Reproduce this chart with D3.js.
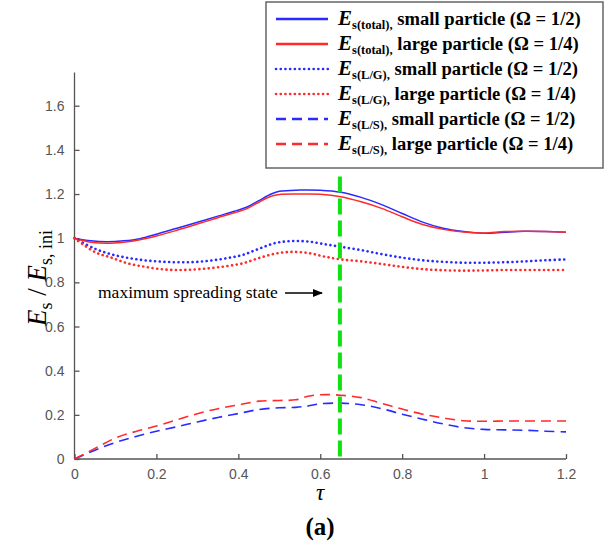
<!DOCTYPE html>
<html>
<head>
<meta charset="utf-8">
<script src="https://cdn.jsdelivr.net/npm/d3@7"></script>
<style>
  body { margin: 0; background: #fff; }
  .axis text { font-family: "Liberation Sans", Arial, sans-serif; font-size: 14px; fill: #555; }
  .axis path, .axis line { stroke: #555; stroke-width: 1.3; }
</style>
</head>
<body>
<script>
// --- data ---
var tauTotal = [0, 0.04, 0.08, 0.12, 0.16, 0.2, 0.25, 0.3, 0.35, 0.39, 0.42, 0.45, 0.48, 0.5, 0.55, 0.6, 0.65, 0.7, 0.75, 0.8, 0.85, 0.9, 0.95, 1.0, 1.05, 1.1, 1.15, 1.2];
var totalSmall = [1.0, 0.988, 0.984, 0.988, 0.998, 1.018, 1.045, 1.072, 1.1, 1.122, 1.14, 1.17, 1.2, 1.213, 1.218, 1.217, 1.208, 1.185, 1.152, 1.112, 1.073, 1.045, 1.03, 1.022, 1.027, 1.031, 1.03, 1.027];
var totalLarge = [1.0, 0.982, 0.977, 0.982, 0.993, 1.01, 1.036, 1.064, 1.093, 1.115, 1.133, 1.163, 1.19, 1.198, 1.2, 1.199, 1.188, 1.165, 1.135, 1.097, 1.062, 1.04, 1.028, 1.024, 1.03, 1.031, 1.03, 1.027];

var tauLG = [0, 0.05, 0.09, 0.13, 0.17, 0.21, 0.25, 0.29, 0.33, 0.37, 0.41, 0.45, 0.49, 0.53, 0.57, 0.61, 0.65, 0.7, 0.75, 0.8, 0.85, 0.9, 0.95, 1.0, 1.05, 1.1, 1.15, 1.2];
var lgSmall = [1.0, 0.952, 0.927, 0.911, 0.9, 0.894, 0.891, 0.892, 0.898, 0.909, 0.924, 0.952, 0.978, 0.987, 0.985, 0.973, 0.961, 0.946, 0.928, 0.912, 0.9, 0.893, 0.889, 0.889, 0.891, 0.895, 0.9, 0.904];
var lgLarge = [1.0, 0.937, 0.912, 0.886, 0.871, 0.86, 0.856, 0.858, 0.864, 0.873, 0.886, 0.91, 0.93, 0.938, 0.933, 0.917, 0.904, 0.895, 0.883, 0.87, 0.86, 0.855, 0.853, 0.854, 0.856, 0.856, 0.856, 0.856];

var tauLS = [0, 0.05, 0.1, 0.15, 0.2, 0.25, 0.3, 0.35, 0.4, 0.45, 0.5, 0.54, 0.57, 0.6, 0.65, 0.7, 0.75, 0.8, 0.85, 0.9, 0.95, 1.0, 1.05, 1.1, 1.15, 1.2];
var lsSmall = [0, 0.04, 0.075, 0.102, 0.126, 0.146, 0.168, 0.188, 0.206, 0.224, 0.232, 0.234, 0.24, 0.25, 0.253, 0.246, 0.228, 0.203, 0.18, 0.159, 0.142, 0.134, 0.132, 0.13, 0.126, 0.123];
var lsLarge = [0, 0.048, 0.095, 0.125, 0.149, 0.178, 0.205, 0.228, 0.245, 0.262, 0.265, 0.268, 0.284, 0.291, 0.289, 0.278, 0.252, 0.226, 0.203, 0.186, 0.173, 0.171, 0.172, 0.172, 0.172, 0.172];

var xTicks = [0, 0.2, 0.4, 0.6, 0.8, 1, 1.2];
var yTicks = [0, 0.2, 0.4, 0.6, 0.8, 1, 1.2, 1.4, 1.6];
var maxSpreadTau = 0.648;
var maxSpreadTop = 1.28;

var legendSub = ["s(total),", "s(total),", "s(L/G),", "s(L/G),", "s(L/S),", "s(L/S),"];
var legendText = [" small particle (\u03A9 = 1/2)", " large particle (\u03A9 = 1/4)",
                  " small particle (\u03A9 = 1/2)", " large particle (\u03A9 = 1/4)",
                  " small particle (\u03A9 = 1/2)", " large particle (\u03A9 = 1/4)"];

var blue = "#2a2aff", red = "#ff2a2a";
var serif = "'Liberation Serif', 'Times New Roman', serif";

var series = [
  {tau: tauTotal, v: totalSmall, color: blue, dash: null, w: 1.5},
  {tau: tauTotal, v: totalLarge, color: red, dash: null, w: 1.5},
  {tau: tauLG, v: lgSmall, color: blue, dash: "0.1,4.6", w: 2.6},
  {tau: tauLG, v: lgLarge, color: red, dash: "0.1,4.6", w: 2.6},
  {tau: tauLS, v: lsSmall, color: blue, dash: "10,6", w: 1.6},
  {tau: tauLS, v: lsLarge, color: red, dash: "10,6", w: 1.6}
];

var width = 604, height = 548;
var svg = d3.select("body").append("svg")
    .attr("width", width)
    .attr("height", height);

var x = d3.scaleLinear().domain([0, 1.2]).range([74.5, 566]);
var y = d3.scaleLinear().domain([0, 1.75]).range([459, 72.6]);

// axes (inward ticks, MATLAB style)
var xAxis = d3.axisBottom(x).tickValues(xTicks).tickSize(-5).tickPadding(10)
    .tickFormat(function(d) { return d3.format("~g")(d); });
var yAxis = d3.axisLeft(y).tickValues(yTicks).tickSize(-5).tickPadding(10)
    .tickFormat(function(d) { return d3.format("~g")(d); });

svg.append("g")
    .attr("class", "axis")
    .attr("transform", "translate(0," + y(0) + ")")
    .call(xAxis)
    .call(function(g) { g.select(".domain").attr("d", "M" + x(0) + ",0H" + x(1.2)); });

svg.append("g")
    .attr("class", "axis")
    .attr("transform", "translate(" + x(0) + ",0)")
    .call(yAxis)
    .call(function(g) { g.select(".domain").attr("d", "M0," + y(0) + "V" + y(1.75)); });

var line = d3.line()
    .x(function(d) { return x(d[0]); })
    .y(function(d) { return y(d[1]); })
    .curve(d3.curveCatmullRom);

series.forEach(function(s) {
  var pts = s.tau.map(function(t, i) { return [t, s.v[i]]; });
  svg.append("path")
      .datum(pts)
      .attr("d", line)
      .attr("fill", "none")
      .attr("stroke", s.color)
      .attr("stroke-width", s.w)
      .attr("stroke-linecap", s.dash && s.dash.indexOf("0.1") === 0 ? "round" : "butt")
      .attr("stroke-dasharray", s.dash);
});

// maximum spreading state marker
svg.append("line")
    .attr("x1", x(maxSpreadTau)).attr("x2", x(maxSpreadTau))
    .attr("y1", y(maxSpreadTop)).attr("y2", y(0.01))
    .attr("stroke", "#11e011")
    .attr("stroke-width", 4)
    .attr("stroke-dasharray", "16,6");

svg.append("text")
    .attr("x", 98).attr("y", 298)
    .attr("font-family", serif)
    .attr("font-size", 17.5)
    .text("maximum spreading state");

svg.append("defs").append("marker")
    .attr("id", "arrow")
    .attr("viewBox", "0 0 10 10")
    .attr("refX", 9).attr("refY", 5)
    .attr("markerWidth", 7).attr("markerHeight", 7)
    .attr("orient", "auto")
  .append("path")
    .attr("d", "M0,1L10,5L0,9z")
    .attr("fill", "#000");

svg.append("line")
    .attr("x1", 285).attr("x2", 322)
    .attr("y1", 293).attr("y2", 293)
    .attr("stroke", "#000")
    .attr("stroke-width", 1.5)
    .attr("marker-end", "url(#arrow)");

// axis labels
var yl = svg.append("text")
    .attr("transform", "translate(46,278) rotate(-90)")
    .attr("text-anchor", "middle")
    .attr("font-family", serif)
    .attr("font-size", 27);
yl.append("tspan").attr("font-style", "italic").text("E");
yl.append("tspan").attr("dy", 6).attr("font-size", 18).text("s");
yl.append("tspan").attr("dy", -6).text(" / ");
yl.append("tspan").attr("font-style", "italic").text("E");
yl.append("tspan").attr("dy", 6).attr("font-size", 18).text("s, ini");

svg.append("text")
    .attr("x", 320).attr("y", 500)
    .attr("text-anchor", "middle")
    .attr("font-family", serif)
    .attr("font-size", 23)
    .attr("font-style", "italic")
    .text("\u03C4");

svg.append("text")
    .attr("x", 320).attr("y", 535)
    .attr("text-anchor", "middle")
    .attr("font-family", serif)
    .attr("font-size", 25)
    .attr("font-weight", "bold")
    .text("(a)");

// legend
var lg = svg.append("g");
lg.append("rect")
    .attr("x", 266).attr("y", 2)
    .attr("width", 337).attr("height", 166)
    .attr("fill", "#fff")
    .attr("stroke", "#666")
    .attr("stroke-width", 1.5);

var rows = lg.selectAll(".legend")
    .data(series)
  .enter().append("g")
    .attr("class", "legend")
    .attr("transform", function(d, i) { return "translate(0," + (19 + i * 25) + ")"; });

rows.append("line")
    .attr("x1", 276).attr("x2", 328)
    .attr("stroke", function(d) { return d.color; })
    .attr("stroke-width", function(d) { return d.dash && d.dash.indexOf("0.1") === 0 ? 2.6 : 2.4; })
    .attr("stroke-linecap", function(d) { return d.dash && d.dash.indexOf("0.1") === 0 ? "round" : "butt"; })
    .attr("stroke-dasharray", function(d) { return d.dash; });

var lt = rows.append("text")
    .attr("x", 338).attr("y", 6)
    .attr("font-family", serif)
    .attr("font-size", 18.6)
    .attr("font-weight", "bold");
lt.append("tspan").attr("font-style", "italic").attr("font-size", 21).text("E");
lt.append("tspan").attr("dy", 4).attr("font-size", 12.5).text(function(d, i) { return legendSub[i]; });
lt.append("tspan").attr("dy", -4).text(function(d, i) { return legendText[i]; });
</script>
</body>
</html>
